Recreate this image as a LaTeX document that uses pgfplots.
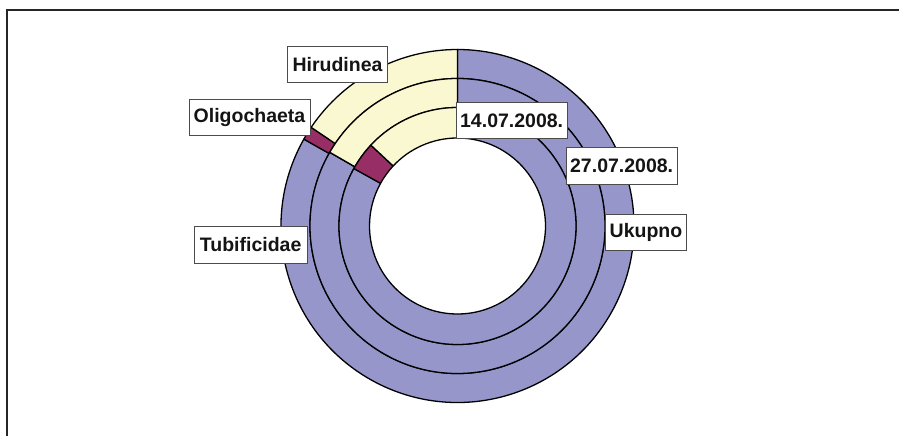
\documentclass[border=0pt]{standalone}
\usepackage{pgfplots}
\pgfplotsset{compat=1.18}
\usepackage{fontspec}
\setmainfont{Liberation Sans}
\definecolor{tubc}{RGB}{150,150,202}
\definecolor{olic}{RGB}{152,46,102}
\definecolor{hirc}{RGB}{250,248,208}
% ring: inner radius, outer radius, Tubificidae %, Oligochaeta %, Hirudinea %
% 14.07.2008. : 88 / 118.5 : 83.06 / 3.89 / 13.06
% 27.07.2008. : 118.5 / 147.5 : 83.33 / 0 / 16.67
% Ukupno      : 147.5 / 176.5 : 83.19 / 1.25 / 15.56
\newcommand\seg[5]{% r1 r2 startpct endpct colour (clockwise from 12 o'clock)
  \filldraw[shift={(axis cs:0,0)},fill=#5,draw=black,line width=1.3pt,line join=round]
    ({90-3.6*(#3)}:#1pt) arc[start angle={90-3.6*(#3)}, end angle={90-3.6*(#4)}, radius=#1pt]
    -- ({90-3.6*(#4)}:#2pt) arc[start angle={90-3.6*(#4)}, end angle={90-3.6*(#3)}, radius=#2pt] -- cycle;}
\newcommand\ring[5]{%
  \seg{#1}{#2}{0}{#3}{tubc}%
  \seg{#1}{#2}{#3}{#3+#4}{olic}%
  \seg{#1}{#2}{#3+#4}{100}{hirc}}
\begin{document}
\begin{tikzpicture}[
  lbl/.style={draw=black!70,fill=white,line width=0.8pt,minimum height=36.5pt,
    inner xsep=4pt,inner ysep=0pt,text=black!92,
    font=\bfseries\fontsize{19.5}{23}\selectfont}]
\begin{axis}[x=1pt,y=1pt,xmin=-457.5,xmax=441.5,ymin=-210,ymax=226,
  hide axis,clip=false]
\path (axis cs:-457.5,-210) rectangle (axis cs:441.5,226);
\draw[overlay,black!85,line width=1.6pt] (axis cs:-450.5,-215) -- (axis cs:-450.5,216) -- (axis cs:450,216);
\ring{147.5}{176.5}{83.19}{1.25}{15.56}
\ring{118.5}{147.5}{83.33}{0}{16.67}
\ring{88}{118.5}{83.06}{3.89}{13.06}
\node[lbl,minimum width=99.6pt] at (axis cs:-120,161.35) {Hirudinea};
\node[lbl,minimum width=121pt] at (axis cs:-208,108.5) {Oligochaeta};
\node[lbl,minimum width=108.7pt] at (axis cs:54.15,105.5) {14.07.2008.};
\node[lbl,minimum width=108.7pt] at (axis cs:164.15,60.2) {27.07.2008.};
\node[lbl,minimum width=80pt] at (axis cs:188.5,-6.5) {Ukupno};
\node[lbl,minimum width=113.3pt] at (axis cs:-206.85,-19) {Tubificidae};
\end{axis}
\end{tikzpicture}
\end{document}
